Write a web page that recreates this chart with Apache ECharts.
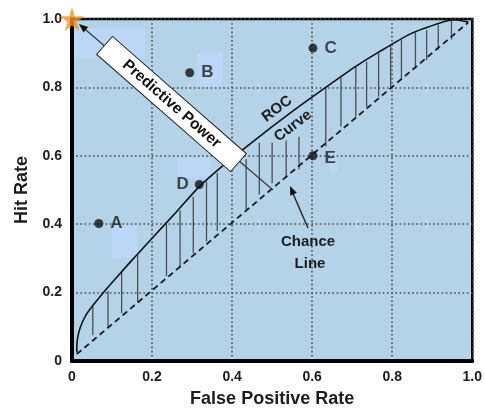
<!DOCTYPE html>
<html>
<head>
<meta charset="utf-8">
<script src="https://cdn.jsdelivr.net/npm/echarts@6/dist/echarts.min.js"></script>
<style>
html,body{margin:0;padding:0;background:#fff;}
#chart{width:485px;height:413px;}
</style>
</head>
<body>
<div id="chart"></div>
<script>
// ---- data ----
const xTickLabels = ['0', '0.2', '0.4', '0.6', '0.8', '1.0'];
const yTickLabels = ['0', '0.2', '0.4', '0.6', '0.8', '1.0'];
const rocX = [0.012, 0.013, 0.02, 0.035, 0.052, 0.087, 0.127, 0.164, 0.211, 0.26, 0.318, 0.386, 0.43, 0.5, 0.56, 0.634, 0.71, 0.766, 0.848, 0.923, 0.953, 0.99];
const rocY = [0.025, 0.06, 0.096, 0.135, 0.162, 0.212, 0.265, 0.313, 0.373, 0.435, 0.51, 0.58, 0.621, 0.685, 0.738, 0.80, 0.862, 0.903, 0.958, 0.99, 0.998, 0.991];
const chanceX = [0.012, 0.99];
const chanceY = [0.02, 0.99];
const hatchX = [0.052, 0.09, 0.124, 0.164, 0.236, 0.27, 0.303, 0.336, 0.363, 0.435, 0.468, 0.5, 0.535, 0.567, 0.634, 0.672, 0.709, 0.736, 0.766, 0.796, 0.823, 0.858, 0.886, 0.915, 0.948];
const hatchTop = [0.16, 0.205, 0.26, 0.31, 0.40, 0.44, 0.48, 0.525, 0.55, 0.59, 0.638, 0.638, 0.645, 0.656, 0.80, 0.828, 0.86, 0.875, 0.90, 0.922, 0.94, 0.96, 0.968, 0.983, 0.995];
const hatchBottom = [0.075, 0.10, 0.14, 0.172, 0.248, 0.274, 0.315, 0.35, 0.38, 0.443, 0.487, 0.52, 0.535, 0.56, 0.627, 0.685, 0.714, 0.743, 0.773, 0.80, 0.825, 0.855, 0.88, 0.91, 0.94];
const pointNames = ['A', 'B', 'C', 'D', 'E'];
const pointX = [0.067, 0.294, 0.602, 0.318, 0.602];
const pointY = [0.402, 0.843, 0.915, 0.516, 0.6];
const starPoint = [0, 1];

// ---- build ----
const rocData = rocX.map((x, i) => [x, rocY[i]]);
const chanceData = chanceX.map((x, i) => [x, chanceY[i]]);
const hatchData = hatchX.map((x, i) => [x, hatchTop[i], hatchBottom[i]]);
const pointData = pointNames.map((n, i) => ({
  value: [pointX[i], pointY[i]],
  name: n,
  label: n === 'D' ? {position: 'left', distance: 6} : (n === 'E' ? {position: 'right', distance: 7, offset: [0, 3]} : {position: 'right', distance: 7})
}));

const FONT = 'Liberation Sans, Arial, sans-serif';
const TXT = '#1d1d1d';

function arrowHead(tip, tail, len, half) {
  const dx = tail[0] - tip[0], dy = tail[1] - tip[1];
  const d = Math.sqrt(dx * dx + dy * dy);
  const ux = dx / d, uy = dy / d;
  const bx = tip[0] + ux * len, by = tip[1] + uy * len;
  return [tip, [bx - uy * half, by + ux * half], [bx + uy * half, by - ux * half]];
}

const chart = echarts.init(document.getElementById('chart'), null, {renderer: 'canvas'});
const ppTip = [79, 24], ppTail = [273, 190];
const chTip = [290, 186], chTail = [308, 228];

const patches = [
  [72, 28, 73, 30], [112, 225, 25, 33], [197, 53, 25, 34], [177, 158, 33, 20], [328, 42, 8, 14], [330, 152, 7, 20]
];

chart.setOption({
  animation: false,
  backgroundColor: '#ffffff',
  grid: {left: 72, right: 11, top: 19, bottom: 51, show: true, backgroundColor: '#b4d3e9', borderColor: '#000', borderWidth: 2.5},
  xAxis: {
    type: 'value', min: 0, max: 1, interval: 0.2,
    name: 'False Positive Rate', nameLocation: 'middle', nameGap: 29,
    nameTextStyle: {fontFamily: FONT, fontWeight: 'bold', fontSize: 18, color: TXT},
    axisLine: {show: true, onZero: false, lineStyle: {color: '#000', width: 4}},
    axisTick: {show: false},
    axisLabel: {margin: 9, fontFamily: FONT, fontWeight: 'bold', fontSize: 14, color: TXT,
      formatter: v => xTickLabels[Math.round(v / 0.2)]},
    splitLine: {show: true, lineStyle: {color: '#4a4a4a', width: 1.6, type: [1.6, 2.6]}}
  },
  yAxis: {
    type: 'value', min: 0, max: 1, interval: 0.2,
    name: 'Hit Rate', nameLocation: 'middle', nameGap: 41,
    nameTextStyle: {fontFamily: FONT, fontWeight: 'bold', fontSize: 18, color: TXT},
    axisLine: {show: true, onZero: false, lineStyle: {color: '#000', width: 4}},
    axisTick: {show: false},
    axisLabel: {margin: 10, fontFamily: FONT, fontWeight: 'bold', fontSize: 14, color: TXT,
      formatter: v => yTickLabels[Math.round(v / 0.2)]},
    splitLine: {show: true, lineStyle: {color: '#4a4a4a', width: 1.6, type: [1.6, 2.6]}}
  },
  graphic: [
    ...patches.map(p => ({type: 'rect', z: 0, zlevel: 0, silent: true,
      shape: {x: p[0], y: p[1], width: p[2], height: p[3]}, style: {fill: '#bcd6f8'}})),
    {type: 'line', z: 50, shape: {x1: ppTail[0], y1: ppTail[1], x2: ppTip[0] + 4, y2: ppTip[1] + 3.5}, style: {stroke: '#333', lineWidth: 1.1}},
    {type: 'polygon', z: 50, shape: {points: arrowHead(ppTip, ppTail, 9, 3.6)}, style: {fill: '#111'}},
    {type: 'group', z: 60, x: 171.5, y: 104, rotation: -41.2 * Math.PI / 180,
      children: [
        {type: 'rect', z: 60, shape: {x: -89, y: -12, width: 178, height: 24}, style: {fill: '#fff', stroke: '#222', lineWidth: 1}},
        {type: 'text', z: 61, style: {text: 'Predictive Power', x: 0, y: 0, align: 'center', verticalAlign: 'middle',
          font: 'bold 15.5px ' + FONT, fill: '#111'}}
      ]},
    {type: 'line', z: 50, shape: {x1: chTail[0], y1: chTail[1], x2: chTip[0] + 1, y2: chTip[1] + 3}, style: {stroke: '#222', lineWidth: 1.4}},
    {type: 'polygon', z: 50, shape: {points: arrowHead(chTip, chTail, 9, 3.6)}, style: {fill: '#111'}},
    {type: 'text', z: 50, x: 308, y: 242, style: {text: 'Chance', align: 'center', verticalAlign: 'middle', font: 'bold 15px ' + FONT, fill: TXT}},
    {type: 'text', z: 50, x: 310, y: 264, style: {text: 'Line', align: 'center', verticalAlign: 'middle', font: 'bold 15px ' + FONT, fill: TXT}},
    {type: 'text', z: 50, x: 277, y: 109, rotation: 37 * Math.PI / 180, style: {text: 'ROC', align: 'center', verticalAlign: 'middle', font: 'bold 15px ' + FONT, fill: TXT}},
    {type: 'text', z: 50, x: 293, y: 126, rotation: 37 * Math.PI / 180, style: {text: 'Curve', align: 'center', verticalAlign: 'middle', font: 'bold 15px ' + FONT, fill: TXT}}
  ],
  series: [
    {
      type: 'custom', z: 3, silent: true,
      renderItem: function (params, api) {
        const p1 = api.coord([api.value(0), api.value(1)]);
        const p2 = api.coord([api.value(0), api.value(2)]);
        return {type: 'line', shape: {x1: p1[0], y1: p1[1], x2: p2[0], y2: p2[1]}, style: {stroke: '#4d4d4d', lineWidth: 1.3}};
      },
      data: hatchData
    },
    {
      type: 'line', z: 4, data: chanceData, symbol: 'none', silent: true,
      lineStyle: {color: '#1a1a1a', width: 1.8, type: [6, 4]}
    },
    {
      type: 'line', z: 5, data: rocData, symbol: 'none', smooth: 0.25, silent: true,
      lineStyle: {color: '#111', width: 1.6}
    },
    {
      type: 'scatter', z: 6, data: pointData, symbol: 'circle', symbolSize: 9, silent: true,
      itemStyle: {color: '#111'},
      label: {show: true, formatter: '{b}', fontFamily: FONT, fontWeight: 'bold', fontSize: 17, color: TXT}
    },
    {
      type: 'scatter', z: 70, zlevel: 0, data: [starPoint], clip: false, silent: true,
      symbol: 'path://M50,0 L61,35 L98,35 L68,57 L79,91 L50,70 L21,91 L32,57 L2,35 L39,35 Z',
      symbolSize: 24, itemStyle: {color: '#f7931e'}
    }
  ]
});
</script>
</body>
</html>
